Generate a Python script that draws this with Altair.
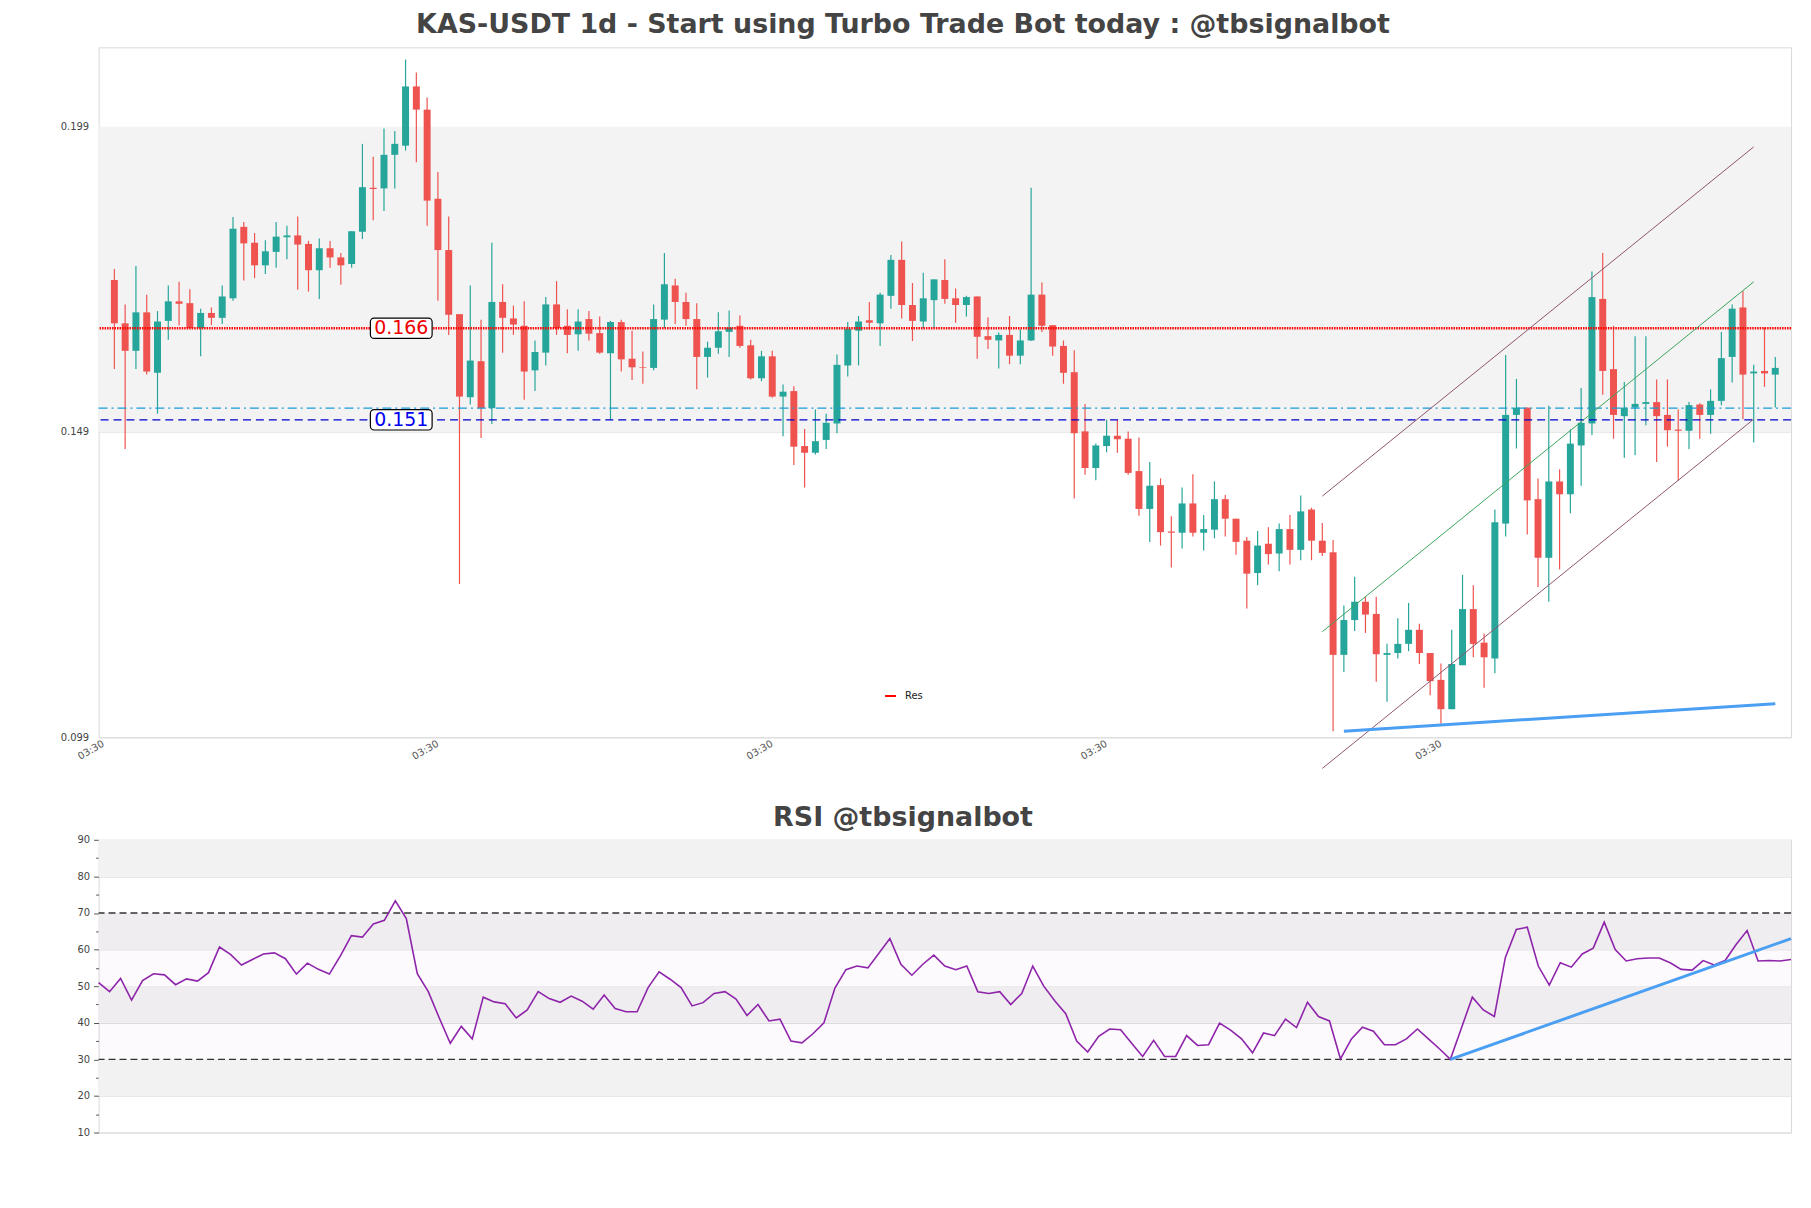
import altair as alt
import pandas as pd

TITLE = "KAS-USDT 1d - Start using Turbo Trade Bot today : @tbsignalbot"
RSI_TITLE = "RSI @tbsignalbot"

opens = [0.1739, 0.1668, 0.1623, 0.1686, 0.1587, 0.1672, 0.1704, 0.1701, 0.1660, 0.1685,
         0.1677, 0.1709, 0.1826, 0.1800, 0.1763, 0.1785, 0.1809, 0.1812, 0.1798, 0.1755,
         0.1791, 0.1776, 0.1765, 0.1818, 0.1890, 0.1889, 0.1944, 0.1959, 0.2056, 0.2018,
         0.1872, 0.1788, 0.1683, 0.1547, 0.1606, 0.1529, 0.1703, 0.1676, 0.1664, 0.1591,
         0.1620, 0.1699, 0.1664, 0.1650, 0.1675, 0.1652, 0.1619, 0.1670, 0.1610, 0.1596,
         0.1595, 0.1674, 0.1730, 0.1703, 0.1675, 0.1613, 0.1628, 0.1654, 0.1664, 0.1632,
         0.1578, 0.1614, 0.1548, 0.1557, 0.1467, 0.1456, 0.1477, 0.1504, 0.1599, 0.1656,
         0.1673, 0.1668, 0.1713, 0.1772, 0.1698, 0.1671, 0.1706, 0.1739, 0.1709, 0.1698,
         0.1712, 0.1647, 0.1640, 0.1649, 0.1615, 0.1640, 0.1715, 0.1665, 0.1631, 0.1588,
         0.1491, 0.1431, 0.1467, 0.1484, 0.1479, 0.1426, 0.1364, 0.1403, 0.1327, 0.1325,
         0.1373, 0.1325, 0.1330, 0.1380, 0.1348, 0.1312, 0.1259, 0.1307, 0.1291, 0.1331,
         0.1297, 0.1363, 0.1312, 0.1293, 0.1125, 0.1182, 0.1212, 0.1192, 0.1125, 0.1128,
         0.1143, 0.1166, 0.1128, 0.1084, 0.1036, 0.1108, 0.1200, 0.1145, 0.1119, 0.1340,
         0.1518, 0.1530, 0.1380, 0.1284, 0.1409, 0.1388, 0.1468, 0.1504, 0.1708, 0.1593,
         0.1516, 0.1530, 0.1536, 0.1539, 0.1518, 0.1494, 0.1492, 0.1535, 0.1518, 0.1541,
         0.1613, 0.1694, 0.1586, 0.1590, 0.1584]

highs = [0.1757, 0.1699, 0.1762, 0.1715, 0.1688, 0.1730, 0.1736, 0.1724, 0.1692, 0.1694,
         0.1730, 0.1842, 0.1834, 0.1816, 0.1804, 0.1834, 0.1828, 0.1843, 0.1803, 0.1807,
         0.1803, 0.1783, 0.1819, 0.1962, 0.1941, 0.1987, 0.1983, 0.2100, 0.2079, 0.2038,
         0.1916, 0.1843, 0.1683, 0.1730, 0.1674, 0.1800, 0.1732, 0.1697, 0.1704, 0.1640,
         0.1711, 0.1737, 0.1691, 0.1691, 0.1688, 0.1679, 0.1672, 0.1674, 0.1656, 0.1622,
         0.1699, 0.1783, 0.1741, 0.1718, 0.1701, 0.1638, 0.1686, 0.1689, 0.1681, 0.1641,
         0.1623, 0.1623, 0.1568, 0.1565, 0.1495, 0.1527, 0.1520, 0.1617, 0.1670, 0.1680,
         0.1703, 0.1718, 0.1780, 0.1802, 0.1734, 0.1751, 0.1740, 0.1773, 0.1725, 0.1713,
         0.1712, 0.1678, 0.1653, 0.1680, 0.1658, 0.1890, 0.1735, 0.1665, 0.1640, 0.1624,
         0.1536, 0.1471, 0.1510, 0.1510, 0.1491, 0.1481, 0.1441, 0.1414, 0.1352, 0.1399,
         0.1421, 0.1354, 0.1409, 0.1387, 0.1348, 0.1318, 0.1328, 0.1334, 0.1340, 0.1354,
         0.1386, 0.1366, 0.1341, 0.1313, 0.1206, 0.1253, 0.1220, 0.1220, 0.1143, 0.1185,
         0.1210, 0.1176, 0.1128, 0.1111, 0.1166, 0.1256, 0.1239, 0.1160, 0.1363, 0.1616,
         0.1577, 0.1530, 0.1414, 0.1533, 0.1429, 0.1494, 0.1562, 0.1753, 0.1783, 0.1664,
         0.1572, 0.1647, 0.1647, 0.1576, 0.1576, 0.1527, 0.1539, 0.1537, 0.1560, 0.1654,
         0.1699, 0.1721, 0.1600, 0.1661, 0.1613]

lows = [0.1593, 0.1462, 0.1593, 0.1584, 0.1520, 0.1641, 0.1665, 0.1660, 0.1614, 0.1665,
        0.1667, 0.1705, 0.1738, 0.1742, 0.1749, 0.1759, 0.1773, 0.1723, 0.1720, 0.1708,
        0.1759, 0.1731, 0.1759, 0.1806, 0.1837, 0.1852, 0.1889, 0.1951, 0.1932, 0.1828,
        0.1705, 0.1649, 0.1241, 0.1535, 0.1480, 0.1503, 0.1620, 0.1649, 0.1543, 0.1557,
        0.1599, 0.1649, 0.1619, 0.1623, 0.1640, 0.1618, 0.1510, 0.1589, 0.1575, 0.1569,
        0.1591, 0.1660, 0.1667, 0.1664, 0.1560, 0.1579, 0.1618, 0.1613, 0.1628, 0.1576,
        0.1573, 0.1546, 0.1483, 0.1436, 0.1399, 0.1453, 0.1462, 0.1488, 0.1581, 0.1599,
        0.1658, 0.1631, 0.1692, 0.1676, 0.1639, 0.1660, 0.1660, 0.1700, 0.1669, 0.1679,
        0.1610, 0.1626, 0.1594, 0.1601, 0.1601, 0.1639, 0.1654, 0.1615, 0.1569, 0.1381,
        0.1420, 0.1411, 0.1457, 0.1456, 0.1420, 0.1353, 0.1310, 0.1304, 0.1268, 0.1299,
        0.1319, 0.1296, 0.1316, 0.1319, 0.1289, 0.1201, 0.1239, 0.1273, 0.1262, 0.1273,
        0.1280, 0.1280, 0.1287, 0.1000, 0.1097, 0.1164, 0.1161, 0.1081, 0.1048, 0.1119,
        0.1131, 0.1110, 0.1059, 0.1012, 0.1036, 0.1108, 0.1121, 0.1071, 0.1095, 0.1319,
        0.1463, 0.1322, 0.1236, 0.1212, 0.1265, 0.1357, 0.1402, 0.1485, 0.1551, 0.1479,
        0.1448, 0.1452, 0.1501, 0.1441, 0.1466, 0.1410, 0.1462, 0.1479, 0.1487, 0.1534,
        0.1571, 0.1511, 0.1473, 0.1564, 0.1530]

closes = [0.1668, 0.1623, 0.1686, 0.1589, 0.1671, 0.1704, 0.1700, 0.1660, 0.1685, 0.1677,
          0.1712, 0.1823, 0.1799, 0.1763, 0.1786, 0.1810, 0.1812, 0.1797, 0.1755, 0.1791,
          0.1776, 0.1763, 0.1819, 0.1891, 0.1888, 0.1944, 0.1962, 0.2056, 0.2018, 0.1869,
          0.1788, 0.1682, 0.1548, 0.1607, 0.1529, 0.1703, 0.1677, 0.1666, 0.1589, 0.1621,
          0.1699, 0.1660, 0.1649, 0.1671, 0.1651, 0.1620, 0.1670, 0.1609, 0.1596, 0.1595,
          0.1675, 0.1732, 0.1703, 0.1675, 0.1613, 0.1628, 0.1655, 0.1661, 0.1631, 0.1578,
          0.1614, 0.1548, 0.1556, 0.1466, 0.1456, 0.1475, 0.1505, 0.1600, 0.1659, 0.1671,
          0.1669, 0.1715, 0.1772, 0.1698, 0.1672, 0.1709, 0.1740, 0.1708, 0.1698, 0.1711,
          0.1646, 0.1641, 0.1649, 0.1615, 0.1640, 0.1715, 0.1664, 0.1630, 0.1587, 0.1488,
          0.1431, 0.1468, 0.1484, 0.1478, 0.1423, 0.1364, 0.1402, 0.1326, 0.1325, 0.1373,
          0.1325, 0.1331, 0.1380, 0.1348, 0.1310, 0.1258, 0.1304, 0.1290, 0.1331, 0.1297,
          0.1360, 0.1312, 0.1292, 0.1125, 0.1182, 0.1212, 0.1191, 0.1126, 0.1128, 0.1143,
          0.1166, 0.1128, 0.1082, 0.1036, 0.1110, 0.1200, 0.1143, 0.1121, 0.1342, 0.1518,
          0.1530, 0.1378, 0.1284, 0.1409, 0.1388, 0.1471, 0.1505, 0.1711, 0.1590, 0.1518,
          0.1530, 0.1536, 0.1539, 0.1516, 0.1493, 0.1492, 0.1534, 0.1518, 0.1541, 0.1611,
          0.1692, 0.1584, 0.1589, 0.1586, 0.1595]

rsi_values = [51.0, 48.5, 52.1, 46.2, 51.5, 53.4, 53.1, 50.4, 52.0, 51.4,
              53.7, 60.7, 58.7, 55.8, 57.3, 58.8, 59.1, 57.5, 53.3, 56.3,
              54.6, 53.3, 58.3, 63.8, 63.4, 67.0, 68.0, 73.3, 68.5, 53.4,
              48.5, 41.3, 34.4, 39.0, 35.6, 47.0, 45.7, 45.2, 41.3, 43.5,
              48.5, 46.6, 45.6, 47.3, 45.9, 43.7, 47.6, 43.9, 43.0, 43.0,
              49.6, 53.9, 51.9, 49.6, 44.6, 45.5, 48.0, 48.5, 46.5, 42.0,
              45.0, 40.5, 41.0, 35.0, 34.5, 37.0, 40.0, 49.5, 54.5, 55.5,
              55.0, 59.0, 63.0, 56.0, 53.0, 56.0, 58.5, 55.5, 54.5, 55.5,
              48.5, 48.0, 48.5, 45.0, 48.0, 55.5, 50.0, 46.0, 42.5, 35.0,
              32.0, 36.3, 38.3, 38.1, 34.4, 30.8, 35.2, 30.8, 30.8, 36.5,
              33.8, 34.0, 39.9, 38.0, 35.6, 31.8, 37.2, 36.5, 41.0, 38.7,
              45.6, 41.7, 40.5, 30.1, 35.6, 38.8, 37.7, 34.0, 34.0, 35.6,
              38.3, 35.6, 32.9, 30.0, 38.5, 47.0, 43.5, 41.7, 57.8, 65.5,
              66.1, 55.5, 50.3, 56.4, 55.2, 58.8, 60.4, 67.5, 60.0, 56.9,
              57.5, 57.7, 57.7, 56.4, 54.6, 54.4, 57.0, 55.8, 57.0, 61.4,
              65.2, 56.9, 57.0, 56.9, 57.3]

x_tick_positions = [-1, 30, 61, 92, 123]
x_tick_text = "03:30"
price_ticks = [0.099, 0.149, 0.199]
price_band = [0.149, 0.199]
rsi_ticks = [10, 15, 20, 25, 30, 35, 40, 45, 50, 55, 60, 65, 70, 75, 80, 85, 90]
rsi_band_lo = [20, 40, 60, 80]
rsi_band_hi = [30, 50, 70, 90]
rsi_levels = [30, 70]

res_name = "Res"
res_level = 0.166
sup_level = 0.151
aux_level = 0.1529

channel_idx = [112, 152]
channel_upper = [0.1385, 0.1957]
channel_mid = [0.1163, 0.1736]
channel_lower = [0.0939, 0.1511]
support_idx = [114, 154]
support_val = [0.1000, 0.1045]
rsi_trend_idx = [123, 154]
rsi_trend_val = [30.0, 63.0]

label_idx = 26.6
label_values = [0.166, 0.151]
label_texts = ["0.166", "0.151"]
label_colors = ["#ee0000", "#0000ee"]

# ---------------- styling ----------------
W = 1700
H_MAIN = 693
H_RSI = 294
GREEN = "#26a69a"
RED = "#ef5350"
FONT = "DejaVu Sans"
BOX_PATH = ("M-0.88,-0.33 L0.88,-0.33 A0.12,0.12 0 0 1 1,-0.21 L1,0.21 A0.12,0.12 0 0 1 0.88,0.33 "
            "L-0.88,0.33 A0.12,0.12 0 0 1 -1,0.21 L-1,-0.21 A0.12,0.12 0 0 1 -0.88,-0.33 Z")

n = len(closes)
candles = pd.DataFrame({"idx": list(range(n)), "open": opens, "high": highs,
                        "low": lows, "close": closes})

xs = alt.Scale(domain=[-1, 155], nice=False, zero=False)
ys = alt.Scale(domain=[0.099, 0.212], nice=False, zero=False)

x_axis = alt.Axis(values=x_tick_positions, labelExpr=f"'{x_tick_text}'", labelAngle=-30,
                  labelAlign="right", labelBaseline="top", labelFontSize=10, labelColor="#555555",
                  ticks=False, domain=False, grid=False, title=None, labelPadding=1,
                  labelOffset=-3)
y_axis = alt.Axis(values=price_ticks, format=".3f", labelFontSize=10, labelColor="#444444",
                  ticks=False, domain=False, grid=True, gridColor="#dddddd", title=None,
                  labelPadding=10)

X = alt.X("idx:Q", scale=xs, axis=x_axis, title=None)

band = alt.Chart(pd.DataFrame({"lo": [price_band[0]], "hi": [price_band[1]]})).mark_rect(
    color="#f3f3f3").encode(
    y=alt.Y("lo:Q", scale=ys, axis=y_axis, title=None), y2="hi:Q",
    x=alt.value(0), x2=alt.value(W))

color_cond = alt.condition("datum.close >= datum.open", alt.value(GREEN), alt.value(RED))

wicks = alt.Chart(candles).mark_rule(strokeWidth=1.2).encode(
    x=X, y=alt.Y("low:Q", scale=ys, axis=y_axis, title=None), y2="high:Q", color=color_cond)

bodies = alt.Chart(candles).mark_bar(size=7).encode(
    x=X, y=alt.Y("open:Q", scale=ys, axis=y_axis, title=None), y2="close:Q", color=color_cond)

aux_rule = alt.Chart(pd.DataFrame({"y": [aux_level]})).mark_rule(
    color="#1a9cd8", strokeWidth=1.3, strokeDash=[9, 4, 2, 4]).encode(
    y=alt.Y("y:Q", scale=ys, axis=y_axis, title=None))

sup_rule = alt.Chart(pd.DataFrame({"y": [sup_level]})).mark_rule(
    color="#0000cc", strokeWidth=1.3, strokeDash=[8, 5]).encode(
    y=alt.Y("y:Q", scale=ys, axis=y_axis, title=None))

res_rule = alt.Chart(pd.DataFrame({"y": [res_level], "name": [res_name]})).mark_rule(
    strokeWidth=2.5, strokeDash=[1.5, 1]).encode(
    y=alt.Y("y:Q", scale=ys, axis=y_axis, title=None),
    color=alt.Color("name:N", scale=alt.Scale(domain=[res_name], range=["#ff0000"]),
                    legend=alt.Legend(orient="none", legendX=789, legendY=645, title=None,
                                      symbolType="stroke", symbolSize=121, symbolStrokeWidth=2,
                                      symbolDash=[1, 0], symbolStrokeColor="#d62728",
                                      labelFontSize=10, labelColor="#222222", padding=0,
                                      labelOffset=8)))


def seg(xv, yv, color, width):
    df = pd.DataFrame({"idx": xv, "v": yv})
    return alt.Chart(df).mark_line(color=color, strokeWidth=width).encode(
        x=X, y=alt.Y("v:Q", scale=ys, axis=y_axis, title=None))


ch_up = seg(channel_idx, channel_upper, "#8e5470", 1)
ch_mid = seg(channel_idx, channel_mid, "#3aa45c", 1)
ch_low = seg(channel_idx, channel_lower, "#8e5470", 1)
support = seg(support_idx, support_val, "#4a9ff2", 3)

lab_df = pd.DataFrame({"idx": [label_idx, label_idx], "y": label_values,
                       "t": label_texts, "c": label_colors})
boxes = alt.Chart(lab_df).mark_point(shape=BOX_PATH, size=62 * 62, filled=True, fill="white",
                                     stroke="black", strokeWidth=1.2, opacity=1).encode(
    x=X, y=alt.Y("y:Q", scale=ys, axis=y_axis, title=None))
texts = alt.Chart(lab_df).mark_text(fontSize=19, font=FONT, baseline="middle").encode(
    x=X, y=alt.Y("y:Q", scale=ys, axis=y_axis, title=None), text="t:N",
    color=alt.Color("c:N", scale=None))

main = alt.layer(band, wicks, bodies, aux_rule, sup_rule, res_rule, ch_up, ch_mid, ch_low,
                 support, boxes, texts).properties(
    width=W, height=H_MAIN,
    title=alt.TitleParams(TITLE, fontSize=27, fontWeight="bold", color="#444444",
                          anchor="middle", offset=-13, dx=-42, baseline="alphabetic",
                          frame="group"))

# ---------------- RSI ----------------
rx = alt.Scale(domain=[0, n - 1], nice=False, zero=False)
ry = alt.Scale(domain=[10, 90], nice=False, zero=False)
major = "datum.value % 10 == 0"
ry_axis = alt.Axis(values=rsi_ticks, labelExpr=f"{major} ? datum.label : ''",
                   tickSize={"condition": {"test": major, "value": 5}, "value": 3},
                   tickColor="#555555", labelFontSize=10, labelColor="#444444",
                   domain=False, grid=True, gridColor="#dddddd",
                   gridOpacity={"condition": {"test": major, "value": 1}, "value": 0},
                   labelPadding=4, title=None)
RX = alt.X("idx:Q", scale=rx, axis=None)

rsi_df = pd.DataFrame({"idx": list(range(n)), "rsi": rsi_values})

r_bands = alt.Chart(pd.DataFrame({"lo": rsi_band_lo, "hi": rsi_band_hi})).mark_rect(
    color="#f2f2f2").encode(
    y=alt.Y("lo:Q", scale=ry, axis=ry_axis), y2="hi:Q", x=alt.value(0), x2=alt.value(W))
r_tint = alt.Chart(pd.DataFrame({"lo": [rsi_levels[0]], "hi": [rsi_levels[1]]})).mark_rect(
    color="#c8a2dc", opacity=0.06).encode(
    y=alt.Y("lo:Q", scale=ry, axis=ry_axis), y2="hi:Q", x=alt.value(0), x2=alt.value(W))
r_levels = alt.Chart(pd.DataFrame({"y": rsi_levels})).mark_rule(
    color="#333333", strokeWidth=1.3, strokeDash=[7, 4]).encode(
    y=alt.Y("y:Q", scale=ry, axis=ry_axis))
r_line = alt.Chart(rsi_df).mark_line(color="#8e24aa", strokeWidth=1.6).encode(
    x=RX, y=alt.Y("rsi:Q", scale=ry, axis=ry_axis))
r_trend = alt.Chart(pd.DataFrame({"idx": rsi_trend_idx, "rsi": rsi_trend_val})).mark_line(
    color="#4a9ff2", strokeWidth=3).encode(
    x=RX, y=alt.Y("rsi:Q", scale=ry, axis=ry_axis))

rsi_chart = alt.layer(r_bands, r_tint, r_levels, r_line, r_trend).properties(
    width=W, height=H_RSI,
    title=alt.TitleParams(RSI_TITLE, fontSize=27, fontWeight="bold", color="#444444",
                          anchor="middle", offset=-18, dx=-42, baseline="alphabetic",
                          frame="group"))

chart = alt.vconcat(main, rsi_chart, spacing=103, bounds="flush").properties(
    padding={"left": 51, "top": 0, "right": 5, "bottom": 5}
).configure(font=FONT).configure_view(stroke="#d9d9d9", strokeWidth=1)

chart.save("out.html", embed_options={"renderer": "svg", "actions": False})
